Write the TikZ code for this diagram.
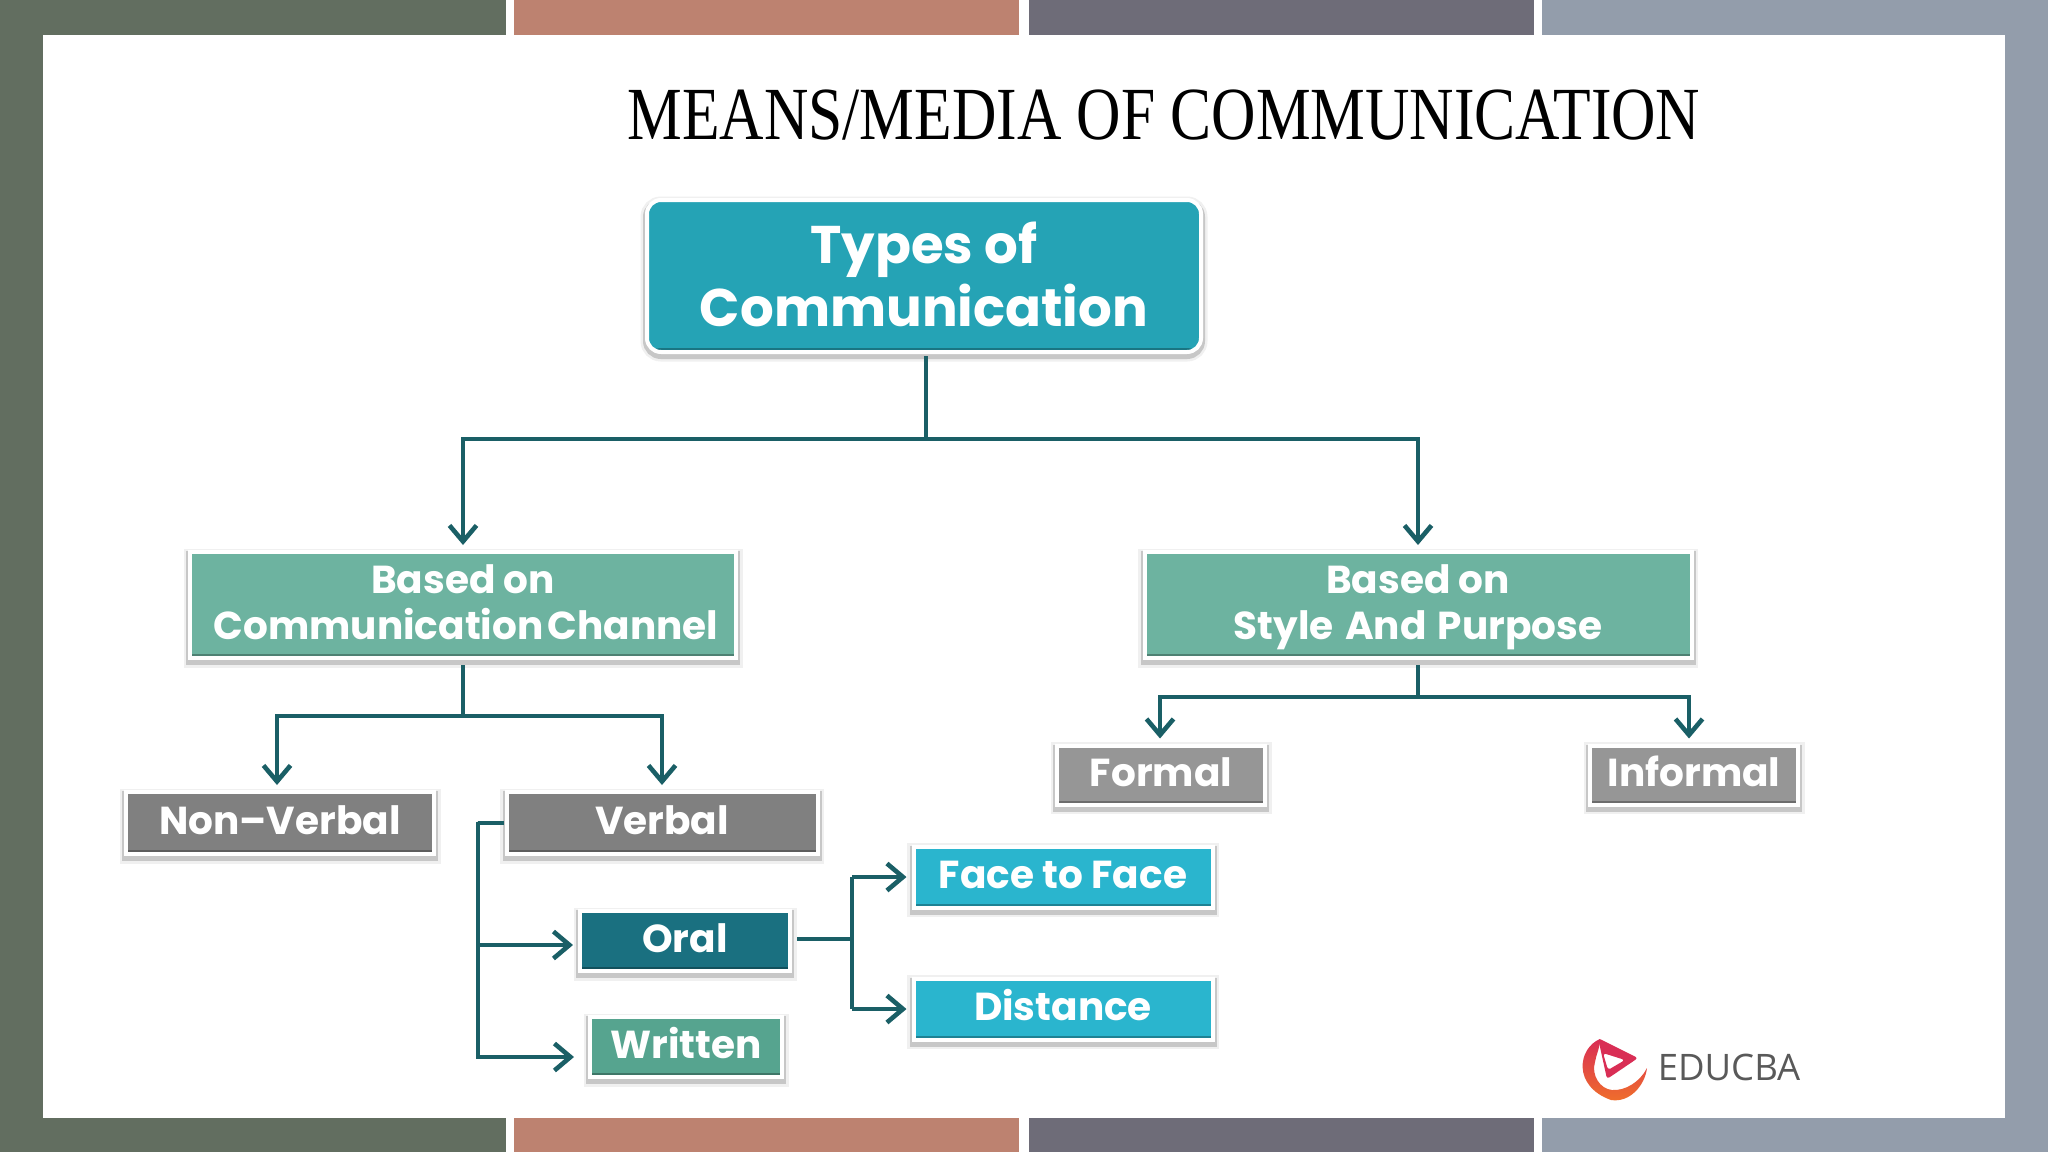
\documentclass[tikz,border=0pt]{standalone}
\usepackage{fontspec}
\usetikzlibrary{arrows.meta}
\setsansfont{Poppins}
\setmainfont{Liberation Serif}
\newfontfamily\titlefont{Liberation Serif}[FakeStretch=0.82]
\newfontfamily\logofont{Open Sans}
\newcommand\boxline[1]{\rule[-11.3pt]{0pt}{46pt}\smash{#1}}
\newcommand\topline[1]{\rule[-12.5pt]{0pt}{63pt}\smash{#1}}
\definecolor{bandA}{HTML}{626E60}
\definecolor{bandB}{HTML}{BD8270}
\definecolor{bandC}{HTML}{6E6C78}
\definecolor{bandD}{HTML}{939DAB}
\definecolor{linkC}{HTML}{1A5F66}
\definecolor{typesC}{HTML}{25A3B5}
\definecolor{basedC}{HTML}{6DB3A0}
\definecolor{darkgrayC}{HTML}{808080}
\definecolor{lightgrayC}{HTML}{969696}
\definecolor{oralC}{HTML}{1A7080}
\definecolor{writtenC}{HTML}{56A48F}
\definecolor{faceC}{HTML}{2AB5CE}
\definecolor{logoA}{HTML}{D92E55}
\definecolor{logoB}{HTML}{F0702A}
\tikzset{
  band/.style={fill=#1,draw=none},
  boxbase/.style={draw=white,line width=4pt,text=white,align=center,inner sep=0pt,outer sep=7pt,
    font=\sffamily\bfseries\fontsize{39}{46}\selectfont,
    preaction={draw=black!6,line width=13pt,transform canvas={yshift=-3pt}},
    preaction={draw=black!22,line width=8pt,transform canvas={yshift=-3pt}}},
  fillbox/.style={boxbase,fill=#1,
    path picture={\fill[black,opacity=.28] ([yshift=4pt]path picture bounding box.south west) rectangle (path picture bounding box.south east);}},
  roundbox/.style={fillbox=typesC,rounded corners=14pt,font=\sffamily\bfseries\fontsize{53}{63}\selectfont},
  link/.style={draw=linkC,line width=4.6pt},
  linkarrow/.style={link,-{Straight Barb[length=16pt,width=27pt,line width=4.6pt]}},
}
\begin{document}
\begin{tikzpicture}[x=1pt,y=-1pt]
\useasboundingbox (0,0) rectangle (2048,1152);
% frame
\fill[white] (0,0) rectangle (2048,1152);
\fill[band=bandA] (0,0) rectangle (506,35);
\fill[band=bandA] (0,0) rectangle (43,1152);
\fill[band=bandA] (0,1118) rectangle (506,1152);
\fill[band=bandB] (514,0) rectangle (1019,35);
\fill[band=bandB] (514,1118) rectangle (1019,1152);
\fill[band=bandC] (1029,0) rectangle (1534,35);
\fill[band=bandC] (1029,1118) rectangle (1534,1152);
\fill[band=bandD] (1542,0) rectangle (2048,35);
\fill[band=bandD] (2005,0) rectangle (2048,1152);
\fill[band=bandD] (1542,1118) rectangle (2048,1152);
% title
\node (title) at (1164,115) {\titlefont\fontsize{75}{80}\selectfont MEANS/MEDIA OF COMMUNICATION};
% boxes
\node[roundbox,minimum width=554pt,minimum height=152pt] (types) at (924,276) {\topline{Types of}\\\topline{Communication}};
\node[fillbox=basedC,minimum width=546pt,minimum height=106pt] (channel) at (463,605) {\boxline{Based on}\\\boxline{\hspace*{6pt}Communication\hspace{-4pt} Channel}};
\node[fillbox=basedC,minimum width=547pt,minimum height=106pt] (style) at (1418,605) {\boxline{Based on}\\\boxline{Style\hspace{3pt} And\hspace{3pt} Purpose}};
\node[fillbox=darkgrayC,minimum width=308pt,minimum height=62pt] (nonverbal) at (280,823) {\boxline{Non–Verbal}};
\node[fillbox=darkgrayC,minimum width=311pt,minimum height=62pt] (verbal) at (662,823) {\boxline{Verbal}};
\node[fillbox=lightgrayC,minimum width=208pt,minimum height=59pt] (formal) at (1161,775) {\boxline{Formal}};
\node[fillbox=lightgrayC,minimum width=208pt,minimum height=59pt] (informal) at (1694,775) {\boxline{Informal}};
\node[fillbox=oralC,minimum width=210pt,minimum height=60pt] (oral) at (685,941) {\boxline{Oral}};
\node[fillbox=writtenC,minimum width=192pt,minimum height=60pt] (written) at (686,1047) {\boxline{Written}};
\node[fillbox=faceC,minimum width=299pt,minimum height=61pt] (face) at (1063,877) {\boxline{Face to Face}};
\node[fillbox=faceC,minimum width=299pt,minimum height=61pt] (distance) at (1063,1009) {\boxline{Distance}};
% junctions
\coordinate (j1) at (926,439);
\coordinate (j2) at (464,716);
\coordinate (j3) at (1418,697);
\coordinate (j4) at (478,822);
\coordinate (j5) at (852,939);
% connectors
\draw[link] ([xshift=2pt,yshift=3pt]types.south) -- (j1);
\draw[linkarrow] (j1) -| (channel.north);
\draw[linkarrow] (j1) -| (style.north);
\draw[link] (channel.south) -- (channel.south |- j2);
\draw[linkarrow] (channel.south |- j2) -| ([xshift=-3pt]nonverbal.north);
\draw[linkarrow] (channel.south |- j2) -| (verbal.north);
\draw[link] (style.south) -- (j3);
\draw[linkarrow] (j3) -| ([xshift=-1pt]formal.north);
\draw[linkarrow] (j3) -| ([xshift=-5pt]informal.north);
\draw[link] ([xshift=4pt]verbal.west) -| (j4) -- (j4 |- written.west);
\draw[linkarrow] ([yshift=-4pt]j4 |- oral.west) -- ([yshift=-4pt]oral.west);
\draw[linkarrow] ([yshift=-10pt]j4 |- written.west) -- ([xshift=-9pt,yshift=-10pt]written.west);
\draw[link] (j4 |- written.west) -- ([yshift=-12pt]j4 |- written.west);
\draw[link] ([yshift=2pt]oral.east) -- (j5);
\draw[link] (j5 |- face.west) -- (j5 |- distance.west);
\draw[linkarrow] (j5 |- face.west) -- (face.west);
\draw[linkarrow] (j5 |- distance.west) -- (distance.west);
% logo
\shade[top color=logoA,bottom color=logoB] (1600,1039) .. controls (1578,1048) and (1572,1086) .. (1611,1100) .. controls (1630,1103) and (1645,1085) .. (1647,1068) .. controls (1640,1082) and (1625,1091) .. (1612,1090) .. controls (1600,1089) and (1591,1075) .. (1595,1062) .. controls (1596,1055) and (1600,1048) .. (1600,1039) -- cycle;
\fill[logoA,even odd rule,rounded corners=3pt] (1598,1038) -- (1638,1058) -- (1607,1079) -- cycle (1603,1053) -- (1625,1060) -- (1608,1070) -- cycle;
\node[text=black!65,inner sep=0pt] (logotext) at (1729,1067) {\logofont\fontsize{36.5}{40}\selectfont EDUCBA};
\end{tikzpicture}
\end{document}
